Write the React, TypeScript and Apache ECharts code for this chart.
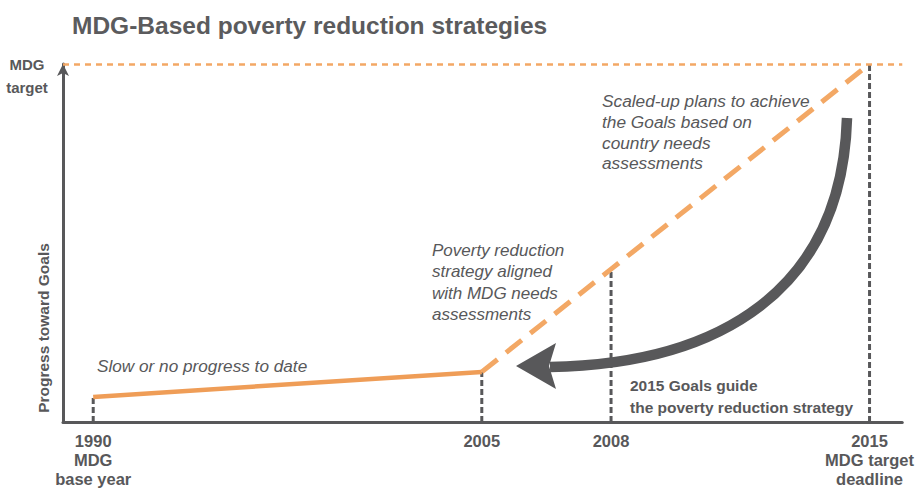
import React, { useEffect, useRef } from "react";
import * as echarts from "echarts";

// ---- data ----
const titleText = "MDG-Based poverty reduction strategies";
const yearLabels = ["1990\nMDG\nbase year", "2005", "2008", "2015\nMDG target\ndeadline"];
// schematic position of each year along the timeline (0-100 scale)
const yearPositions = [3.6, 49.9, 65.3, 96.1];
// progress toward goals at each year (0-100, 100 = MDG target)
const slowProgress = [7, 14]; // 1990 -> 2005
const scaledProgress = [14, 42.7, 100]; // 2005 -> 2008 -> 2015
const guideProgress = [7, 14, 42.7, 100]; // height of the vertical guides
const targetValue = 100;
const yAxisTitle = "Progress toward Goals";
const targetLabel = "\nMDG\ntarget";
const noteSlow = "Slow or no progress to date";
const noteAligned = "Poverty reduction\nstrategy aligned\nwith MDG needs\nassessments";
const noteScaled = "Scaled-up plans to achieve\nthe Goals based on\ncountry needs\nassessments";
const noteGuide = "2015 Goals guide\nthe poverty reduction strategy";

const FONT = "'Liberation Sans', Arial, sans-serif";
const GRAY = "#58585a";
const ORANGE = "#ef9d57";
const ORANGE_LIGHT = "#f3a865";

export default function App() {
  const ref = useRef<HTMLDivElement>(null);
  useEffect(() => {
    if (!ref.current) return;
    const chart = echarts.init(ref.current, undefined, { renderer: "svg" });
    const guideSeries = yearPositions.map((x, i) => ({
      type: "line",
      data: [
        [x, 0],
        [x, guideProgress[i]],
      ],
      symbol: "none",
      z: 1,
      lineStyle: { color: GRAY, width: 3, type: [6, 3] },
    }));
    chart.setOption({
      animation: false,
      backgroundColor: "#ffffff",
      title: {
        text: titleText,
        left: 67,
        top: 8,
        textStyle: { fontFamily: FONT, fontSize: 24.5, fontWeight: "bold", color: "#5b5b5d" },
      },
      grid: { left: 63, right: 12, top: 64, bottom: 75 },
      xAxis: {
        type: "value",
        min: 0,
        max: 100,
        splitLine: { show: false },
        axisTick: { show: false },
        axisLine: { onZero: false, lineStyle: { color: GRAY, width: 3 } },
        axisLabel: {
          customValues: yearPositions,
          formatter: (v: number) => {
            const i = yearPositions.indexOf(v);
            return i >= 0 ? yearLabels[i] : "";
          },
          margin: 9,
          fontFamily: FONT,
          fontSize: 16.5,
          fontWeight: "bold",
          lineHeight: 19,
          color: GRAY,
          align: "center",
        },
      },
      yAxis: {
        type: "value",
        min: 0,
        max: 100,
        splitLine: { show: false },
        axisTick: { show: false },
        axisLine: {
          show: true,
          symbol: ["none", "arrow"],
          symbolSize: [9, 12],
          lineStyle: { color: GRAY, width: 3 },
        },
        axisLabel: {
          customValues: [targetValue],
          formatter: () => targetLabel,
          margin: 36,
          fontFamily: FONT,
          fontSize: 15,
          fontWeight: "bold",
          lineHeight: 23,
          verticalAlign: "middle",
          color: GRAY,
          align: "center",
        },
      },
      series: [
        ...guideSeries,
        {
          type: "line",
          data: slowProgress.map((v, i) => [yearPositions[i], v]),
          symbol: "none",
          z: 3,
          lineStyle: { color: ORANGE, width: 4.5 },
        },
        {
          type: "line",
          data: scaledProgress.map((v, i) => [yearPositions[i + 1], v]),
          symbol: "none",
          z: 3,
          lineStyle: { color: ORANGE_LIGHT, width: 5, type: [20, 11] },
          markLine: {
            symbol: "none",
            silent: true,
            label: { show: false },
            lineStyle: { color: ORANGE_LIGHT, width: 2.5, type: [6, 5] },
            data: [{ yAxis: targetValue }],
          },
        },
      ],
      graphic: [
        {
          type: "text",
          x: 43,
          y: 328,
          rotation: Math.PI / 2,
          style: {
            text: yAxisTitle,
            fontFamily: FONT,
            fontSize: 15.5,
            fontWeight: "bold",
            fill: GRAY,
            align: "center",
            verticalAlign: "middle",
          },
        },
        {
          type: "bezierCurve",
          shape: { x1: 847, y1: 118, cpx1: 842, cpy1: 290, cpx2: 720, cpy2: 364, x2: 550, y2: 367 },
          style: { stroke: GRAY, lineWidth: 10.5, fill: null },
          z: 10,
        },
        {
          type: "polygon",
          shape: { points: [[516, 366], [556, 343], [549, 366], [556, 389]] },
          style: { fill: GRAY },
          z: 10,
        },
        {
          type: "text",
          x: 97,
          y: 366,
          style: {
            text: noteSlow,
            fontFamily: FONT,
            fontSize: 17.2,
            fontStyle: "italic",
            fill: GRAY,
            verticalAlign: "middle",
          },
        },
        {
          type: "text",
          x: 432,
          y: 240,
          style: {
            text: noteAligned,
            fontFamily: FONT,
            fontSize: 17,
            lineHeight: 21.3,
            fontStyle: "italic",
            fill: GRAY,
            verticalAlign: "top",
          },
        },
        {
          type: "text",
          x: 602,
          y: 91,
          style: {
            text: noteScaled,
            fontFamily: FONT,
            fontSize: 17.3,
            lineHeight: 20.7,
            fontStyle: "italic",
            fill: GRAY,
            verticalAlign: "top",
          },
        },
        {
          type: "text",
          x: 630,
          y: 374,
          style: {
            text: noteGuide,
            fontFamily: FONT,
            fontSize: 15.5,
            lineHeight: 22,
            fontWeight: "bold",
            fill: GRAY,
            verticalAlign: "top",
          },
        },
      ],
    });
    return () => chart.dispose();
  }, []);
  return (
    <div
      ref={ref}
      style={{ position: "fixed", left: 0, top: 0, width: 917, height: 497, background: "#fff" }}
    />
  );
}
